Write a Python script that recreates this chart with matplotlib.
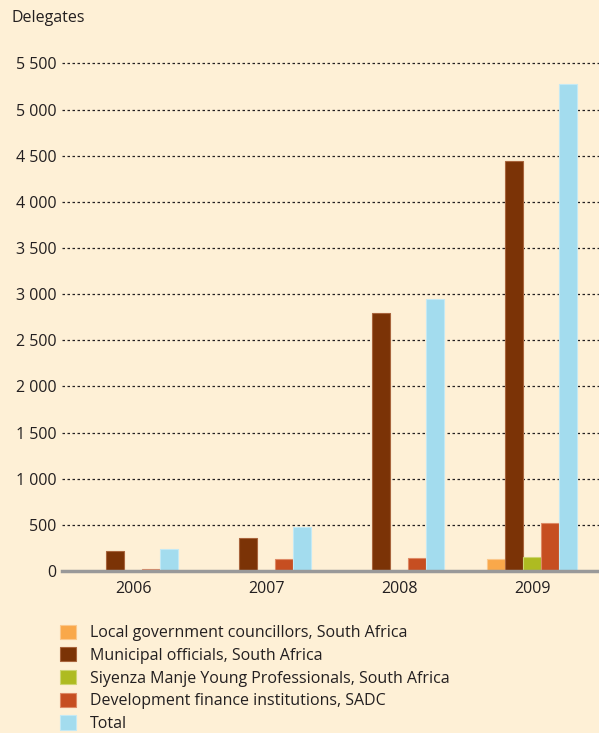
import matplotlib.pyplot as plt
import numpy as np
from matplotlib.ticker import FuncFormatter

years = ['2006', '2007', '2008', '2009']
series = [
    'Local government councillors, South Africa',
    'Municipal officials, South Africa',
    'Siyenza Manje Young Professionals, South Africa',
    'Development finance institutions, SADC',
    'Total',
]
councillors = [0, 0, 0, 130]
officials = [214, 357, 2800, 4445]
siyenza = [0, 0, 0, 155]
dfi = [25, 129, 138, 522]
total = [236, 473, 2950, 5280]
colors = ['#F9A84A', '#7B3306', '#AEBB21', '#C64E21', '#A3DCEE']
edges = ['#FBC88C', '#A8643C', '#CDD570', '#DE8A66', '#C4E9F4']

plt.rcParams['font.family'] = ['Open Sans', 'DejaVu Sans']
bg = '#FEF0D6'
ink = '#231F20'

fig = plt.figure(figsize=(5.99, 7.33), dpi=100, facecolor=bg)
ax = fig.add_axes([0.103, 0.221, 0.897, 0.6925], facecolor=bg)

x = np.arange(len(years))
w = 0.1353
data = [councillors, officials, siyenza, dfi, total]
for i, (vals, c, e, name) in enumerate(zip(data, colors, edges, series)):
    ax.bar(x + (i - 2) * w, vals, w, color=c, edgecolor=e, linewidth=0.8,
           label=name, zorder=3)

ax.set_ylim(0, 5500)
ax.set_xlim(-0.538, 3.50)
ax.set_yticks(np.arange(0, 5501, 500))
ax.yaxis.set_major_formatter(FuncFormatter(lambda v, p: f'{int(v):,}'.replace(',', ' ')))
ax.set_xticks(x)
ax.set_xticklabels(years)
ax.tick_params(length=0, labelsize=11.5, colors=ink, pad=4)
ax.tick_params(axis='x', pad=7)
ax.grid(axis='y', color=ink, linestyle=(0, (2, 2)), linewidth=0.9, zorder=1)
for s in ['top', 'right', 'left']:
    ax.spines[s].set_visible(False)
ax.spines['bottom'].set_color('#999999')
ax.spines['bottom'].set_linewidth(2.5)
ax.spines['bottom'].set_zorder(4)
for gl in ax.get_ygridlines():
    gl.set_clip_on(False)

fig.text(0.02, 0.975, 'Delegates', fontsize=11.5, color=ink, va='center')

fig.legend(loc='upper left', bbox_to_anchor=(0.101, 0.148), frameon=False,
           fontsize=11.5, handlelength=1.0, handleheight=1.0, handletextpad=0.85,
           labelspacing=0.38, borderaxespad=0, borderpad=0, labelcolor=ink)

fig.savefig('out.png', dpi=100, facecolor=bg)
